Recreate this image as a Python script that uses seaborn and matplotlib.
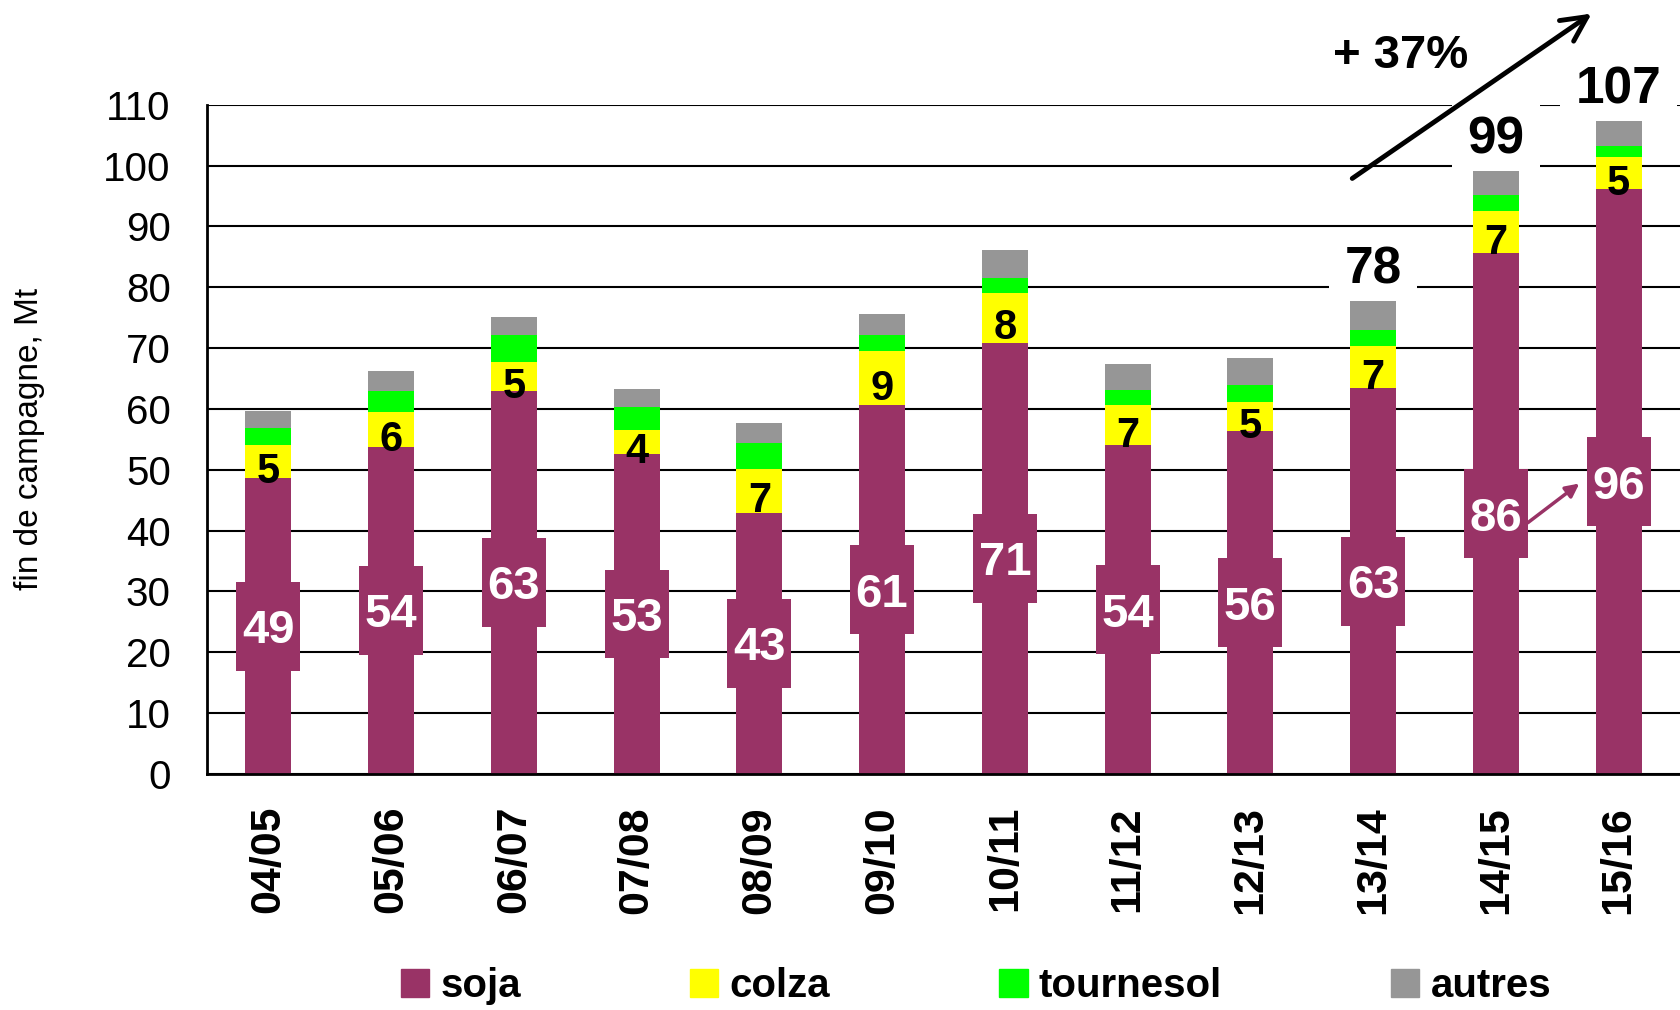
"""Stocks de fin de campagne - oléagineux (soja, colza, tournesol, autres)."""
import numpy as np
import pandas as pd
import matplotlib
matplotlib.use("Agg")
import matplotlib.pyplot as plt
import matplotlib.patches as mpatches
import seaborn as sns

# ── data ─────────────────────────────────────────────────────────────────────
CAMPAGNES = ["04/05", "05/06", "06/07", "07/08", "08/09", "09/10",
             "10/11", "11/12", "12/13", "13/14", "14/15", "15/16"]
SOJA      = [48.6, 53.8, 63.0, 52.6, 42.9, 60.6, 70.9, 54.0, 56.3, 63.4, 85.6, 96.1]
COLZA     = [5.4, 5.7, 4.7, 4.0, 7.3, 8.9, 8.2, 6.6, 4.9, 6.9, 6.9, 5.4]
TOURNESOL = [2.8, 3.5, 4.5, 3.8, 4.2, 2.7, 2.5, 2.5, 2.8, 2.7, 2.6, 1.7]
AUTRES    = [2.9, 3.2, 2.9, 2.9, 3.3, 3.4, 4.5, 4.3, 4.4, 4.7, 4.1, 4.1]
TOTAL_SHOWN = ["13/14", "14/15", "15/16"]

SOJA_C, COLZA_C, TOURN_C, AUTRES_C = "#993366", "#FFFF00", "#00FF00", "#969696"
BAR_W, BOX_W, BOX_H = 0.375, 0.52, 14.6

sns.set_style("white")
plt.rcParams["font.family"] = ["Liberation Sans", "DejaVu Sans"]
plt.rcParams["text.color"] = "black"
plt.rcParams["axes.labelcolor"] = "black"
plt.rcParams["xtick.color"] = "black"
plt.rcParams["ytick.color"] = "black"

df = pd.DataFrame({"campagne": CAMPAGNES, "soja": SOJA, "colza": COLZA,
                   "tournesol": TOURNESOL, "autres": AUTRES})
df["c_soja"] = df["soja"]
df["c_colza"] = df["c_soja"] + df["colza"]
df["c_tourn"] = df["c_colza"] + df["tournesol"]
df["c_autres"] = df["c_tourn"] + df["autres"]

fig = plt.figure(figsize=(16.8, 10.1), dpi=100)
ax = fig.add_axes([0.1232, 0.2337, 0.8768, 0.6625])

# stacked bars: draw cumulative sums from the top down
for col, color in [("c_autres", AUTRES_C), ("c_tourn", TOURN_C),
                   ("c_colza", COLZA_C), ("c_soja", SOJA_C)]:
    sns.barplot(data=df, x="campagne", y=col, color=color, width=BAR_W,
                saturation=1, errorbar=None, ax=ax, zorder=2, linewidth=0)

x = np.arange(len(df))
# wider maroon box behind the soja value
ax.bar(x, BOX_H, bottom=df["soja"] / 2 - BOX_H / 2, width=BOX_W,
       color=SOJA_C, linewidth=0, zorder=2.5)

for i, row in df.iterrows():
    ax.text(i, row["soja"] / 2, f"{round(row['soja'])}", color="white",
            fontsize=34, fontweight="bold", ha="center", va="center_baseline", zorder=4)
    ax.text(i, row["soja"] + row["colza"] / 2 - 1.0, f"{round(row['colza'])}",
            color="black", fontsize=30, fontweight="bold", ha="center",
            va="center_baseline", zorder=4)
    if row["campagne"] in TOTAL_SHOWN:
        ax.text(i, row["c_autres"] + 6, f"{round(row['c_autres'])}", color="black",
                fontsize=37, fontweight="bold", ha="center", va="center_baseline",
                zorder=1.5, clip_on=False,
                bbox=dict(boxstyle="square,pad=0.3", fc="white", ec="none"))

# growth arrow + label
tot = df["c_autres"].round().values
ax.annotate("", xy=(10.78, 125), xytext=(8.83, 97.9),
            arrowprops=dict(arrowstyle="->", color="black", lw=3.5,
                            mutation_scale=45, shrinkA=0, shrinkB=0),
            annotation_clip=False, zorder=6)
ax.text(9.22, 118.9, f"+ {round((tot[-1] / tot[-3] - 1) * 100)}%", fontsize=34,
        fontweight="bold", ha="center", va="center_baseline", clip_on=False)

# small arrow between the last two soja values
ax.annotate("", xy=(11 - BOX_W / 2 - 0.06, SOJA[-1] / 2 - 0.3),
            xytext=(10 + BOX_W / 2, SOJA[-2] / 2 - 1.5),
            arrowprops=dict(arrowstyle="-|>", color=SOJA_C, lw=2.5,
                            mutation_scale=20, shrinkA=0, shrinkB=0), zorder=5)

# ── axes styling ─────────────────────────────────────────────────────────────
ax.set_ylim(0, 110)
ax.set_xlim(-0.5, len(df) - 0.5)
ax.set_yticks(range(0, 111, 10))
ax.yaxis.grid(True, color="black", linewidth=1.5)
ax.set_axisbelow(True)
for s in ["top", "right"]:
    ax.spines[s].set_visible(False)
for s in ["left", "bottom"]:
    ax.spines[s].set_color("black")
    ax.spines[s].set_linewidth(2)
ax.tick_params(axis="y", direction="in", length=13, width=2, pad=26, labelsize=29,
               colors="black")
ax.tick_params(axis="x", length=0, pad=23, colors="black")
ax.set_xticks(x, CAMPAGNES, rotation=90, fontsize=31, fontweight="bold")
ax.set_xlabel("")
ax.set_ylabel("fin de campagne, Mt", fontsize=24, color="black")
ax.yaxis.set_label_coords(-0.11, 0.5)

handles = [mpatches.Patch(color=c, label=l) for c, l in
           [(SOJA_C, "soja"), (COLZA_C, "colza"), (TOURN_C, "tournesol"), (AUTRES_C, "autres")]]
fig.legend(handles=handles, loc="center", bbox_to_anchor=(0.581, 0.024), ncol=4,
           frameon=False, prop={"weight": "bold", "size": 29}, handlelength=0.7,
           handleheight=0.7, handletextpad=0.28, columnspacing=4.2, labelcolor="black")

fig.savefig("out.png", dpi=100)
